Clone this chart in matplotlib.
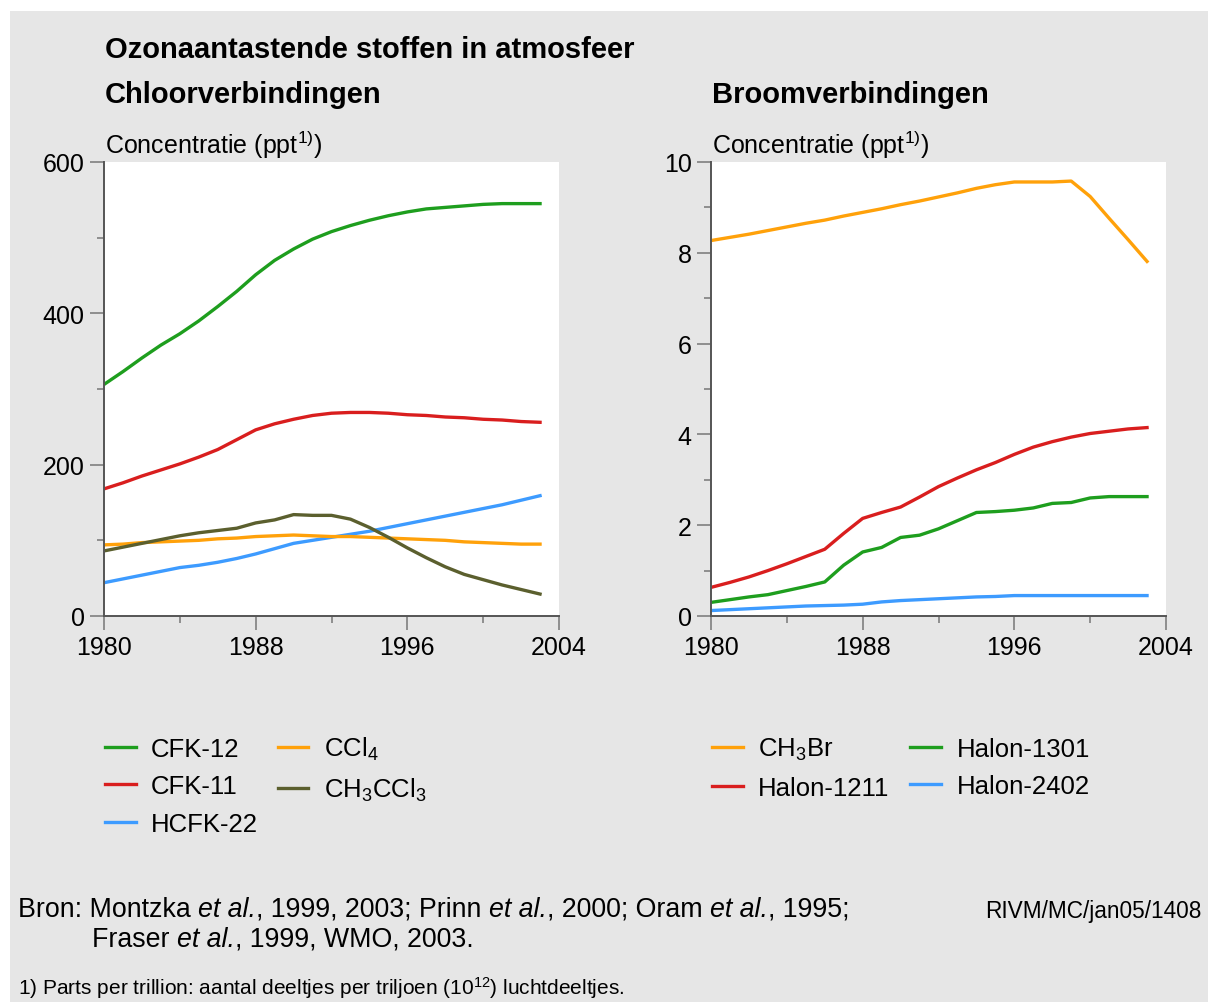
import matplotlib
matplotlib.use("Agg")
import matplotlib.pyplot as plt
from matplotlib.patches import Rectangle

plt.rcParams['font.family'] = ['Liberation Sans', 'DejaVu Sans']
plt.rcParams['mathtext.fontset'] = 'custom'
plt.rcParams['mathtext.rm'] = 'Liberation Sans'
plt.rcParams['mathtext.it'] = 'Liberation Sans:italic'

years = list(range(1980, 2004))

# Chloorverbindingen (ppt)
cfk12 = [306, 323, 341, 358, 373, 390, 409, 429, 451, 470, 485, 498,
         508, 516, 523, 529, 534, 538, 540, 542, 544, 545, 545, 545]
cfk11 = [168, 176, 185, 193, 201, 210, 220, 233, 246, 254, 260, 265,
         268, 269, 269, 268, 266, 265, 263, 262, 260, 259, 257, 256]
hcfk22 = [44, 49, 54, 59, 64, 67, 71, 76, 82, 89, 96, 100,
          104, 108, 112, 117, 122, 127, 132, 137, 142, 147, 153, 159]
ccl4 = [94, 95, 97, 98, 99, 100, 102, 103, 105, 106, 107, 106,
        105, 105, 104, 103, 102, 101, 100, 98, 97, 96, 95, 95]
ch3ccl3 = [86, 91, 96, 101, 106, 110, 113, 116, 123, 127, 134, 133,
           133, 128, 117, 104, 90, 77, 65, 55, 48, 41, 35, 29]

# Broomverbindingen (ppt)
ch3br = [8.27, 8.34, 8.41, 8.49, 8.57, 8.65, 8.72, 8.81, 8.89, 8.97, 9.06, 9.14,
         9.23, 9.32, 9.42, 9.50, 9.56, 9.56, 9.56, 9.58, 9.24, 8.76, 8.29, 7.81]
halon1211 = [0.63, 0.74, 0.86, 1.00, 1.15, 1.31, 1.47, 1.82, 2.15, 2.28, 2.40, 2.62,
             2.85, 3.04, 3.22, 3.38, 3.56, 3.72, 3.84, 3.94, 4.02, 4.07, 4.12, 4.15]
halon1301 = [0.30, 0.36, 0.42, 0.47, 0.56, 0.65, 0.75, 1.12, 1.41, 1.51, 1.73, 1.78,
             1.92, 2.10, 2.28, 2.30, 2.33, 2.38, 2.48, 2.50, 2.60, 2.63, 2.63, 2.63]
halon2402 = [0.12, 0.14, 0.16, 0.18, 0.20, 0.22, 0.23, 0.24, 0.26, 0.31, 0.34, 0.36,
             0.38, 0.40, 0.42, 0.43, 0.45, 0.45, 0.45, 0.45, 0.45, 0.45, 0.45, 0.45]

GREEN = '#1e9e1e'
RED = '#d91e1e'
ORANGE = '#ffa10a'
BLUE = '#3d9bff'
OLIVE = '#5b5f2e'

W, H = 1208, 1003
fig = plt.figure(figsize=(W / 100, H / 100), dpi=100)
fig.patch.set_facecolor('white')
fig.patches.append(Rectangle((10 / W, 0), 1, 1 - 12 / H, transform=fig.transFigure,
                             facecolor='#e6e6e6', edgecolor='none', zorder=-10))
renderer = fig.canvas.get_renderer()


def px(x, y):
    return x / W, 1 - y / H


def rich_text(x, y, parts, size):
    # parts: list of (text, italic) drawn one after another
    for txt, italic in parts:
        t = fig.text(*px(x, y), txt, fontsize=size, va='center',
                     style='italic' if italic else 'normal')
        x += t.get_window_extent(renderer).width


def style_axes(ax, ymax, ymajor, yminor):
    ax.set_facecolor('white')
    ax.set_xlim(1980, 2004)
    ax.set_ylim(0, ymax)
    ax.set_xticks([1980, 1988, 1996, 2004])
    ax.set_xticks([1984, 1992, 2000], minor=True)
    ax.set_yticks(ymajor)
    ax.set_yticks(yminor, minor=True)
    for s in ['top', 'right']:
        ax.spines[s].set_visible(False)
    for s in ['left', 'bottom']:
        ax.spines[s].set_color('#555555')
        ax.spines[s].set_linewidth(1.4)
    ax.tick_params(which='major', direction='out', length=10, width=1.1,
                   color='#777777', labelsize=18, pad=4)
    ax.tick_params(which='minor', direction='out', length=5, width=1.1, color='#777777')


ax1 = fig.add_axes([104 / W, 1 - 617 / H, 455 / W, 454 / H])
ax2 = fig.add_axes([711 / W, 1 - 617 / H, 455 / W, 454 / H])

lw = 2.4
ax1.plot(years, cfk12, color=GREEN, lw=lw, label='CFK-12')
ax1.plot(years, cfk11, color=RED, lw=lw, label='CFK-11')
ax1.plot(years, hcfk22, color=BLUE, lw=lw, label='HCFK-22')
ax1.plot(years, ccl4, color=ORANGE, lw=lw, label=r'CCl$\mathregular{_4}$')
ax1.plot(years, ch3ccl3, color=OLIVE, lw=lw, label=r'CH$\mathregular{_3}$CCl$\mathregular{_3}$')
style_axes(ax1, 600, [0, 200, 400, 600], [100, 300, 500])

ax2.plot(years, ch3br, color=ORANGE, lw=lw, label=r'CH$\mathregular{_3}$Br')
ax2.plot(years, halon1211, color=RED, lw=lw, label='Halon-1211')
ax2.plot(years, halon1301, color=GREEN, lw=lw, label='Halon-1301')
ax2.plot(years, halon2402, color=BLUE, lw=lw, label='Halon-2402')
style_axes(ax2, 10, [0, 2, 4, 6, 8, 10], [1, 3, 5, 7, 9])

leg_kw = dict(loc='upper left', ncol=2, frameon=False, fontsize=18.5,
              handlelength=1.2, handletextpad=0.6, labelspacing=0.52,
              borderpad=0, borderaxespad=0, bbox_transform=fig.transFigure)
ax1.legend(bbox_to_anchor=px(105, 736), columnspacing=0.75, **leg_kw)
ax2.legend(bbox_to_anchor=px(712, 737), columnspacing=0.8, **leg_kw)

fig.text(*px(105, 50), 'Ozonaantastende stoffen in atmosfeer', fontsize=21,
         weight='bold', va='center')
fig.text(*px(105, 95), 'Chloorverbindingen', fontsize=21, weight='bold', va='center')
fig.text(*px(712, 95), 'Broomverbindingen', fontsize=21, weight='bold', va='center')
ylab = r'Concentratie (ppt$\mathregular{^{1)}}$)'
fig.text(*px(105, 145), ylab, fontsize=18, va='center')
fig.text(*px(712, 145), ylab, fontsize=18, va='center')

rich_text(18, 910, [('Bron: Montzka ', False), ('et al.', True), (', 1999, 2003; Prinn ', False),
                    ('et al.', True), (', 2000; Oram ', False), ('et al.', True), (', 1995;', False)], 19.3)
rich_text(92, 940, [('Fraser ', False), ('et al.', True), (', 1999, WMO, 2003.', False)], 19.3)
fig.text(*px(985, 912), 'RIVM/MC/jan05/1408', fontsize=16.3, va='center')
fig.text(*px(18, 988), r'1) Parts per trillion: aantal deeltjes per triljoen (10$\mathregular{^{12}}$) luchtdeeltjes.',
         fontsize=15, va='center')

fig.savefig('out.png', dpi=100, facecolor=fig.get_facecolor())
